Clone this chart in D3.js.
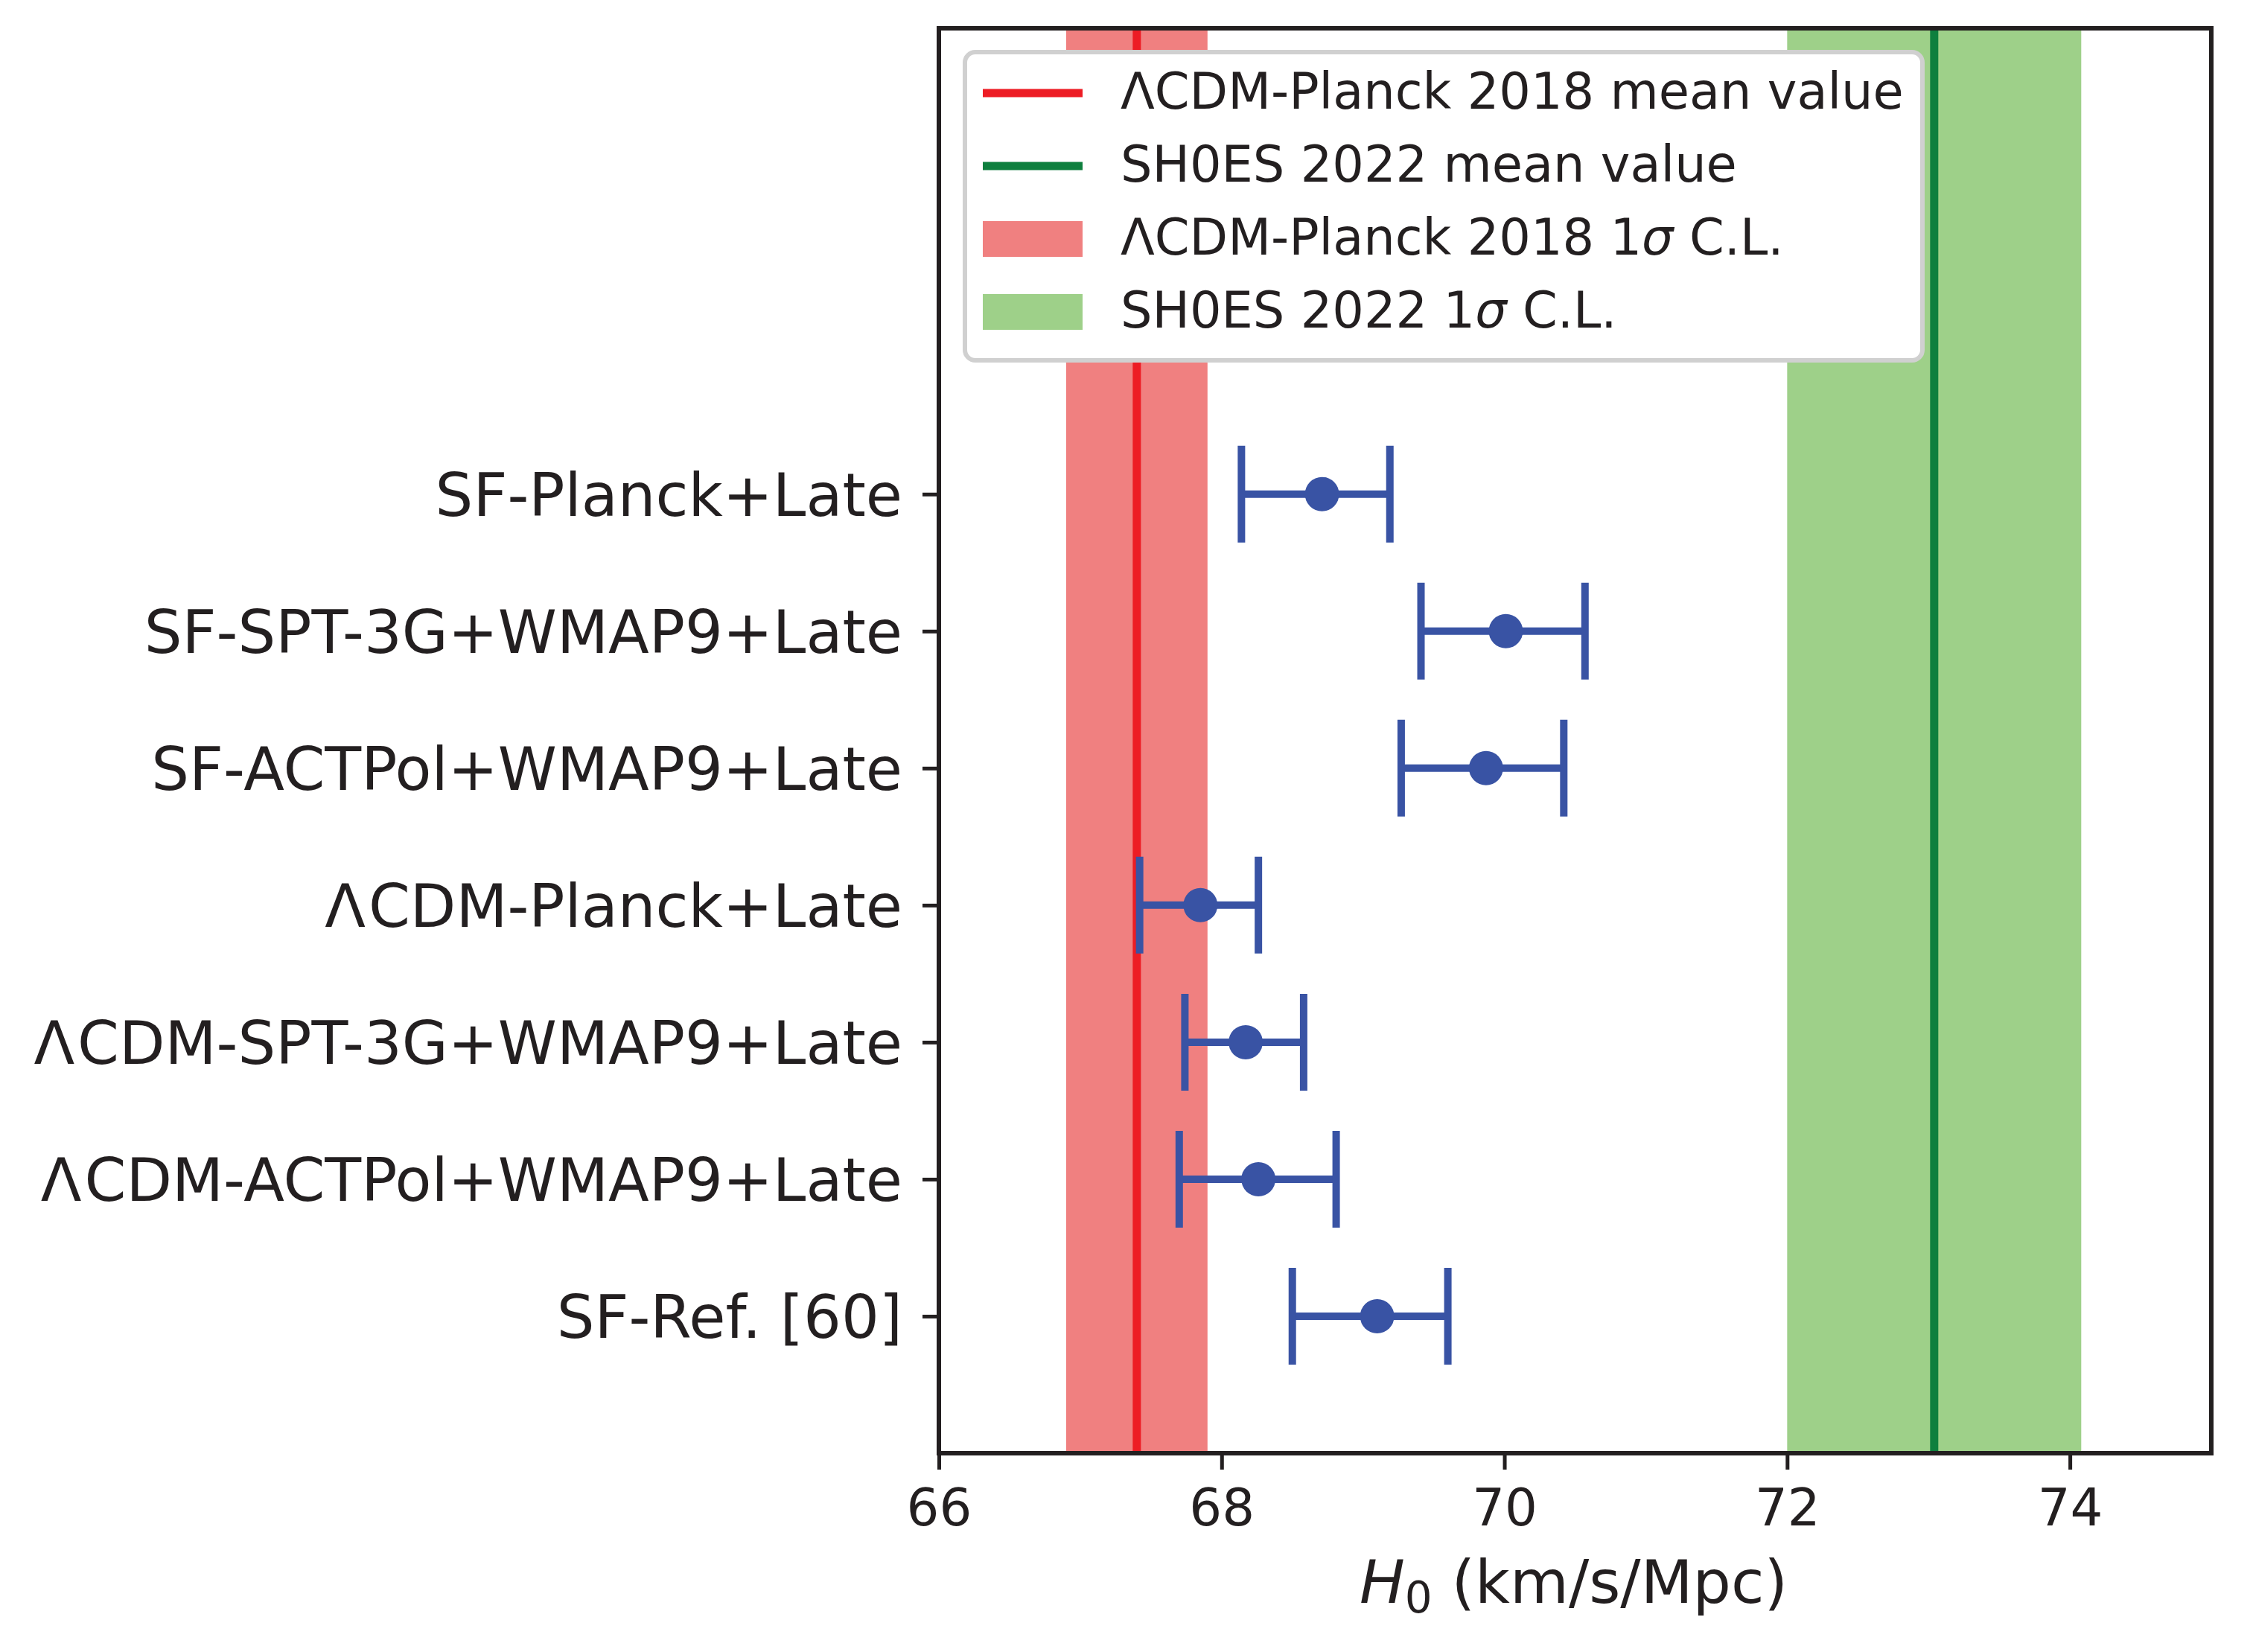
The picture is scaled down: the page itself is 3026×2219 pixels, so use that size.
<!DOCTYPE html>
<html>
<head>
<meta charset="utf-8">
<script src="https://cdn.jsdelivr.net/npm/d3@7"></script>
<style>
  html, body { margin: 0; padding: 0; background: #ffffff; }
  svg { display: block; }
</style>
</head>
<body>
<script>
// ---- Data ----
const categories = [
  "SF-Planck+Late",
  "SF-SPT-3G+WMAP9+Late",
  "SF-ACTPol+WMAP9+Late",
  "ΛCDM-Planck+Late",
  "ΛCDM-SPT-3G+WMAP9+Late",
  "ΛCDM-ACTPol+WMAP9+Late",
  "SF-Ref. [60]"
];
const h0Mean = [68.71, 70.01, 69.87, 67.85, 68.17, 68.26, 69.10];
const h0Low  = [68.14, 69.41, 69.27, 67.42, 67.74, 67.70, 68.50];
const h0High = [69.19, 70.57, 70.42, 68.26, 68.58, 68.81, 69.60];

const planckMean = 67.4, planckSigma = 0.5;
const shoesMean = 73.04, shoesSigma = 1.04;

const xTicks = [66, 68, 70, 72, 74];
const xDomain = [66, 75];
const yDomain = [-1, 9.4];

const legendLabels = [
  "ΛCDM-Planck 2018 mean value",
  "SH0ES 2022 mean value",
  "ΛCDM-Planck 2018 1σ C.L.",
  "SH0ES 2022 1σ C.L."
];

// ---- Layout / style ----
const W = 3026, H = 2219;
const L = 1261, R = 2970, T = 38, B = 1952;
const ink = "#231f20";
const blue = "#3953a4";
const redLine = "#ed1c24", redBand = "#f08080";
const greenLine = "#0e7f3e", greenBand = "#9ed089";
const font = "'DejaVu Sans', sans-serif";

const svg = d3.select("body").append("svg").attr("width", W).attr("height", H);

const x = d3.scaleLinear().domain(xDomain).range([L, R]);
const y = d3.scaleLinear().domain(yDomain).range([B, T]);
const pos = i => categories.length - 1 - i;

// bands
const plot = svg.append("g");
plot.append("rect").attr("x", x(planckMean - planckSigma)).attr("y", T)
  .attr("width", x(planckMean + planckSigma) - x(planckMean - planckSigma)).attr("height", B - T)
  .attr("fill", redBand);
plot.append("rect").attr("x", x(shoesMean - shoesSigma)).attr("y", T)
  .attr("width", x(shoesMean + shoesSigma) - x(shoesMean - shoesSigma)).attr("height", B - T)
  .attr("fill", greenBand);
plot.append("line").attr("x1", x(planckMean)).attr("x2", x(planckMean)).attr("y1", T).attr("y2", B)
  .attr("stroke", redLine).attr("stroke-width", 11);
plot.append("line").attr("x1", x(shoesMean)).attr("x2", x(shoesMean)).attr("y1", T).attr("y2", B)
  .attr("stroke", greenLine).attr("stroke-width", 11);

// error bars
const capHalf = 65;
const eb = plot.selectAll("g.eb").data(categories).enter().append("g").attr("class", "eb");
eb.append("line")
  .attr("x1", (d, i) => x(h0Low[i])).attr("x2", (d, i) => x(h0High[i]))
  .attr("y1", (d, i) => y(pos(i))).attr("y2", (d, i) => y(pos(i)))
  .attr("stroke", blue).attr("stroke-width", 10);
eb.append("line")
  .attr("x1", (d, i) => x(h0Low[i])).attr("x2", (d, i) => x(h0Low[i]))
  .attr("y1", (d, i) => y(pos(i)) - capHalf).attr("y2", (d, i) => y(pos(i)) + capHalf)
  .attr("stroke", blue).attr("stroke-width", 10);
eb.append("line")
  .attr("x1", (d, i) => x(h0High[i])).attr("x2", (d, i) => x(h0High[i]))
  .attr("y1", (d, i) => y(pos(i)) - capHalf).attr("y2", (d, i) => y(pos(i)) + capHalf)
  .attr("stroke", blue).attr("stroke-width", 10);
eb.append("circle")
  .attr("cx", (d, i) => x(h0Mean[i])).attr("cy", (d, i) => y(pos(i)))
  .attr("r", 23).attr("fill", blue);

// axes
const xAxis = d3.axisBottom(x).tickValues(xTicks).tickFormat(d3.format("d")).tickSize(22).tickPadding(26);
const gx = svg.append("g").attr("transform", `translate(0,${B})`).call(xAxis);
gx.select(".domain").remove();
gx.selectAll(".tick line").attr("stroke", ink).attr("stroke-width", 5);
gx.selectAll(".tick text").attr("fill", ink).attr("font-size", 69).attr("font-family", font);

const yAxis = d3.axisLeft(y).tickValues(categories.map((d, i) => pos(i)))
  .tickFormat(v => categories[categories.length - 1 - v]).tickSize(22).tickPadding(27);
const gy = svg.append("g").attr("transform", `translate(${L},0)`).call(yAxis);
gy.select(".domain").remove();
gy.selectAll(".tick line").attr("stroke", ink).attr("stroke-width", 5);
gy.selectAll(".tick text").attr("fill", ink).attr("font-size", 80).attr("font-family", font).attr("dy", "0.36em")
  .each(function () {
    const t = d3.select(this);
    const s = t.text();
    if (s.startsWith("Λ")) {
      t.text(null);
      t.append("tspan").text("Λ");
      t.append("tspan").attr("dx", 4).text(s.slice(1));
    }
  });

// frame
svg.append("rect").attr("x", L).attr("y", T).attr("width", R - L).attr("height", B - T)
  .attr("fill", "none").attr("stroke", ink).attr("stroke-width", 6);

// x label
const xl = svg.append("text").attr("x", (L + R) / 2 - 2).attr("y", 2153).attr("text-anchor", "middle")
  .attr("font-family", font).attr("font-size", 81).attr("fill", ink);
xl.append("tspan").attr("font-style", "italic").text("H");
xl.append("tspan").attr("font-size", 58).attr("dy", 13).text("0");
xl.append("tspan").attr("dy", -13).text(" (km/s/Mpc)");

// legend
const lg = svg.append("g");
lg.append("rect").attr("x", 1296).attr("y", 70).attr("width", 1286).attr("height", 414)
  .attr("rx", 14).attr("fill", "#ffffff").attr("stroke", "#d0d0d0").attr("stroke-width", 6);
const rowY = [125, 223, 321, 419];
const hx0 = 1320, hx1 = 1454;
lg.append("line").attr("x1", hx0).attr("x2", hx1).attr("y1", rowY[0]).attr("y2", rowY[0])
  .attr("stroke", redLine).attr("stroke-width", 11);
lg.append("line").attr("x1", hx0).attr("x2", hx1).attr("y1", rowY[1]).attr("y2", rowY[1])
  .attr("stroke", greenLine).attr("stroke-width", 11);
lg.append("rect").attr("x", hx0).attr("y", rowY[2] - 24).attr("width", hx1 - hx0).attr("height", 48)
  .attr("fill", redBand);
lg.append("rect").attr("x", hx0).attr("y", rowY[3] - 24).attr("width", hx1 - hx0).attr("height", 48)
  .attr("fill", greenBand);
legendLabels.forEach((lab, i) => {
  const t = lg.append("text").attr("x", 1505).attr("y", rowY[i] + 21)
    .attr("font-family", font).attr("font-size", 67).attr("fill", ink);
  const m = lab.match(/^(.*1)σ(.*)$/);
  if (m) {
    t.append("tspan").text(m[1]);
    t.append("tspan").attr("font-style", "italic").text("σ");
    t.append("tspan").text(m[2]);
  } else {
    t.text(lab);
  }
});
</script>
</body>
</html>
